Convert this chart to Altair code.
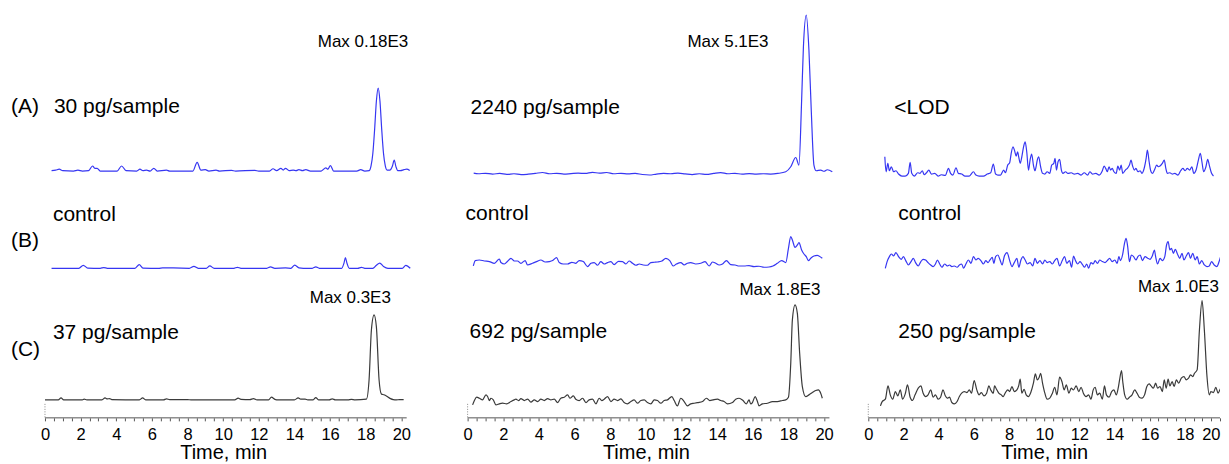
import altair as alt
import pandas as pd

# ---------------- data (time in min, intensity in counts / arbitrary units) ----------------
a1_t = [0.37,0.6,0.8,1.0,1.6,1.85,2.1,2.45,2.67,2.8,2.93,3.1,4.05,4.3,4.55,5.15,5.33,5.5,5.7,5.9,
        6.11,6.3,6.82,7.0,8.3,8.54,8.75,9.0,9.2,9.6,9.8,10.47,10.7,11.78,12.0,12.6,12.8,13.0,13.24,13.37,
        13.5,13.7,13.93,14.1,14.25,14.45,14.64,14.9,15.5,15.76,15.88,16.02,16.2,17.5,17.72,17.95,18.2,18.3,18.4,18.5,
        18.6,18.7,18.8,18.9,19.0,19.1,19.2,19.35,19.5,19.6,19.7,19.8,19.95,20.15,20.3,20.47]
a1_v = [1,2,4,1,0,2,0,1,11,6,6,0,0,11,1,0,4,1,2,0,
        6,0,2,0,0,19,2,3,0,2,0,1.5,0,1.5,0,0,5,1,6,2,
        6,1,2,1,3,1,3,0,0,7,4,12,0,0,3,0,1,11,38,90,
        152,180,152,90,38,11,2,2,11,24,9,1,1,3,4,1]

b1_t = [0.37,1.9,2.15,2.4,3.1,3.3,3.5,5.05,5.29,5.5,6.4,6.6,7.2,8.1,8.36,8.6,9.05,9.25,9.5,10.6,
        10.8,11.0,12.45,12.66,12.9,13.5,13.8,14.02,14.25,14.5,15.0,15.2,15.4,16.65,16.78,16.86,16.95,17.08,17.55,17.76,
        17.95,18.4,18.6,18.79,19.0,19.25,20.05,20.25,20.5]
b1_v = [0,0,6.5,0.5,0,1.5,0,0,8,0.5,0,0.7,0.7,0,4,0,0,5,0,0,
        2,0,0,3,0,0.7,0,7,1,0,0,3,0,0,11,23,11,0,0,2,
        0,0,6.5,11,4,0,0,6.5,0]

c1_t = [0.0,0.75,0.9,1.05,2.1,2.2,2.35,3.2,3.37,3.5,3.62,3.75,5.3,5.48,5.65,6.65,6.82,7.0,8.0,8.2,
        10.65,10.84,11.0,11.5,11.7,11.9,12.55,12.71,12.9,13.1,14.0,14.21,14.35,14.6,14.75,15.05,15.2,15.35,15.95,16.12,
        16.3,17.0,17.2,17.4,18.04,18.19,18.32,18.47,18.6,18.75,18.88,19.02,19.16,19.39,19.55,19.72,19.9,20.13]
c1_v = [0,0,7,0,0,2.5,0,0,7,3.5,4.5,1,0,7,0,0,3.5,1,1,0,
        0,6,2,1,4.5,0,0,9.5,2,0,0,7,2.5,2.5,0,0,8,0,0,3.5,
        0,0,2,0,2.5,71,247,300,258,71,21,18,14,4.5,1,0,1,1]

a2_t = [0.34,0.6,1.0,1.4,1.8,2.2,2.6,3.0,3.4,3.8,4.2,4.6,5.0,5.4,5.8,6.2,6.6,7.0,7.4,7.8,
        8.2,8.6,9.0,9.4,9.8,10.2,10.6,11.0,11.4,11.8,12.2,12.6,13.0,13.4,13.8,14.2,14.6,15.0,15.4,15.8,
        16.2,16.6,17.0,17.4,17.85,18.13,18.41,18.59,18.74,18.84,19.0,19.15,19.28,19.43,19.56,19.81,20.0,20.18,20.46]
a2_v = [20,0,15,-10,10,-20,0,-30,-15,10,40,0,15,-10,5,20,10,45,20,40,
        0,15,-5,10,-25,-40,-10,10,0,20,-5,-30,0,-20,10,35,0,15,-15,5,
        -10,0,-10,10,64,225,523,280,2366,4077,5100,3971,2045,280,96,118,80,128,64]

b2_t = [0.32,0.43,0.66,0.94,1.22,1.5,1.78,1.87,2.06,2.24,2.43,2.62,2.8,2.99,3.23,3.36,3.64,3.87,4.11,4.35,
        4.58,4.77,4.99,5.14,5.36,5.61,5.85,6.07,6.26,6.49,6.73,6.92,7.1,7.29,7.47,7.66,7.85,8.04,8.22,8.47,
        8.69,8.88,9.06,9.25,9.44,9.63,9.85,10.09,10.28,10.47,10.65,10.9,11.12,11.34,11.53,11.72,11.96,12.15,12.33,12.52,
        12.8,13.08,13.32,13.55,13.74,13.92,14.11,14.3,14.52,14.76,15.01,15.23,15.51,15.79,16.07,16.35,16.63,16.91,17.13,17.38,
        17.62,17.85,18.0,18.13,18.22,18.37,18.5,18.59,18.74,18.87,19.0,19.12,19.25,19.43,19.62,19.71,19.9]
b2_v = [13,67,73,63,57,40,83,47,33,60,90,63,63,40,67,23,40,57,73,53,
        57,67,97,47,33,33,50,40,67,57,7,40,47,20,57,33,47,57,27,60,
        57,33,63,40,20,33,23,20,47,50,53,63,90,67,13,33,47,23,40,47,
        33,40,57,13,53,40,23,33,67,27,23,13,13,17,7,10,0,3,13,40,
        67,47,190,307,273,200,223,247,173,133,107,67,90,113,120,113,90]

c2_t = [0.28,0.38,0.51,0.66,0.84,1.03,1.12,1.22,1.31,1.44,1.59,1.78,1.96,2.19,2.43,2.62,2.71,2.86,2.99,3.18,
        3.37,3.55,3.74,3.93,4.11,4.30,4.49,4.67,4.86,5.05,5.23,5.42,5.61,5.74,5.93,6.07,6.26,6.45,6.64,6.82,
        7.01,7.20,7.38,7.53,7.66,7.85,8.04,8.22,8.41,8.60,8.78,8.97,9.16,9.34,9.53,9.72,9.91,10.09,10.28,10.47,
        10.65,10.84,11.03,11.21,11.46,11.59,11.77,11.96,12.15,12.33,12.52,12.71,12.90,13.18,13.40,13.59,13.77,14.02,14.20,14.39,
        14.58,14.86,15.04,15.23,15.45,15.64,15.79,15.88,15.98,16.13,16.26,16.35,16.54,16.82,17.10,17.38,17.66,17.85,18.00,18.13,
        18.22,18.37,18.50,18.63,18.78,18.97,19.15,19.34,19.53,19.68,19.81,19.90]
c2_v = [18,95,154,136,107,196,166,95,136,107,18,36,47,36,77,107,119,95,130,95,
        119,65,107,77,119,95,130,107,119,59,136,154,196,136,178,119,95,136,59,107,
        119,36,136,95,119,166,77,119,95,125,59,36,77,107,47,95,107,59,36,107,
        95,47,95,107,166,95,0,136,77,0,36,47,59,77,136,95,107,119,95,77,
        36,59,119,136,95,36,107,36,59,166,77,0,36,47,77,77,95,107,154,759,
        1530,1800,1649,937,344,166,196,237,273,285,225,136]

a3_t = [0.94,1.01,1.11,1.20,1.31,1.44,1.57,1.72,1.91,2.10,2.28,2.38,2.47,2.62,2.81,2.94,3.07,3.18,3.31,3.44,
        3.59,3.78,3.97,4.15,4.38,4.56,4.68,4.81,4.99,5.12,5.31,5.50,5.74,5.98,6.12,6.30,6.55,6.77,6.96,7.11,
        7.24,7.37,7.52,7.70,7.80,7.93,8.04,8.12,8.23,8.32,8.41,8.49,8.56,8.64,8.73,8.83,8.92,9.01,9.11,9.20,
        9.29,9.39,9.48,9.54,9.61,9.69,9.80,9.91,10.04,10.17,10.32,10.43,10.55,10.62,10.70,10.79,10.88,10.98,11.07,11.22,
        11.35,11.54,11.72,11.91,12.10,12.28,12.47,12.60,12.75,12.94,13.13,13.31,13.41,13.50,13.59,13.69,13.78,13.87,13.97,14.10,
        14.19,14.29,14.38,14.47,14.62,14.73,14.85,14.94,15.03,15.13,15.22,15.33,15.46,15.56,15.71,15.80,15.87,15.97,16.06,16.15,
        16.27,16.40,16.49,16.59,16.72,16.83,16.92,17.01,17.15,17.28,17.43,17.61,17.76,17.89,18.02,18.14,18.27,18.40,18.51,18.64,
        18.77,18.88,18.98,19.07,19.20,19.30,19.39,19.52,19.63]
a3_v = [193,43,127,53,93,43,53,20,0,0,27,137,27,0,33,27,53,13,33,60,
        20,27,0,13,7,77,27,10,83,27,20,0,0,43,10,0,0,20,33,120,
        20,10,10,60,33,110,133,220,293,253,200,243,187,127,193,293,343,243,60,160,
        220,110,53,93,160,193,93,27,20,43,27,110,127,177,60,143,167,60,27,43,
        27,33,20,27,10,33,10,43,20,27,10,53,100,77,43,93,60,77,43,27,
        100,60,110,27,60,77,110,160,100,60,77,43,53,27,93,177,260,143,53,27,
        60,110,93,100,127,160,77,27,33,20,27,10,53,77,53,77,60,93,27,60,
        160,227,133,43,93,167,110,27,0]

b3_t = [0.97,1.07,1.20,1.31,1.44,1.57,1.72,1.87,2.00,2.13,2.28,2.43,2.56,2.69,2.84,2.99,3.12,3.26,3.40,3.55,
        3.69,3.82,3.93,4.06,4.19,4.34,4.49,4.62,4.75,4.90,5.05,5.18,5.31,5.42,5.55,5.69,5.84,5.98,6.12,6.25,
        6.40,6.55,6.68,6.81,6.92,7.05,7.14,7.24,7.37,7.48,7.61,7.74,7.89,8.04,8.17,8.30,8.45,8.56,8.68,8.79,
        8.92,9.05,9.20,9.35,9.48,9.61,9.76,9.91,10.04,10.17,10.32,10.47,10.60,10.73,10.88,11.03,11.16,11.29,11.44,11.56,
        11.67,11.78,11.91,12.04,12.19,12.30,12.42,12.53,12.66,12.79,12.90,13.03,13.16,13.31,13.46,13.59,13.72,13.87,14.02,14.15,
        14.25,14.34,14.47,14.57,14.66,14.75,14.85,14.96,15.09,15.22,15.33,15.46,15.59,15.74,15.89,16.02,16.15,16.27,16.34,16.45,
        16.59,16.72,16.86,16.96,17.05,17.15,17.24,17.35,17.46,17.58,17.71,17.84,17.95,18.08,18.21,18.32,18.45,18.59,18.70,18.83,
        18.96,19.11,19.26,19.39,19.52,19.67,19.82,19.95,20.04,20.21]
b3_v = [0,67,117,143,123,157,117,90,117,77,33,67,100,57,23,67,90,83,57,33,
        17,43,83,43,10,43,23,33,17,23,10,33,43,0,43,83,50,117,83,100,
        77,43,77,57,83,110,50,117,133,90,33,123,157,77,17,57,100,10,83,117,
        83,43,57,23,100,50,77,43,83,57,67,43,77,100,23,77,117,50,77,10,
        123,77,43,67,33,10,43,0,57,43,77,50,83,67,57,77,100,67,83,50,
        117,77,143,250,300,217,67,133,117,83,117,133,77,117,100,90,123,183,117,43,
        100,77,117,233,267,183,200,150,190,143,100,150,83,123,157,100,150,83,117,43,
        77,33,17,23,67,33,17,67,117,150]

c3_t = [0.69,0.79,0.97,1.12,1.25,1.39,1.54,1.68,1.82,1.95,2.10,2.23,2.38,2.51,2.66,2.84,2.99,3.12,3.26,3.40,
        3.55,3.69,3.82,3.97,4.11,4.25,4.38,4.49,4.62,4.75,4.90,5.05,5.18,5.31,5.46,5.61,5.74,5.87,6.02,6.17,
        6.30,6.43,6.58,6.73,6.86,6.96,7.11,7.18,7.29,7.42,7.56,7.67,7.80,7.93,8.04,8.17,8.30,8.45,8.55,8.64,
        8.73,8.86,8.98,9.11,9.24,9.39,9.50,9.61,9.72,9.80,9.91,10.04,10.17,10.32,10.47,10.60,10.73,10.88,11.01,11.14,
        11.26,11.41,11.54,11.67,11.82,11.97,12.10,12.23,12.38,12.53,12.66,12.79,12.90,13.03,13.16,13.31,13.43,13.54,13.69,13.84,
        13.97,14.10,14.21,14.29,14.40,14.47,14.58,14.72,14.85,15.00,15.15,15.28,15.41,15.56,15.71,15.84,15.97,16.08,16.21,16.34,
        16.45,16.59,16.72,16.83,16.94,17.05,17.15,17.28,17.39,17.52,17.65,17.80,17.95,18.08,18.21,18.32,18.45,18.55,18.70,18.83,
        18.98,19.11,19.26,19.39,19.48,19.63,19.76,19.89,20.04,20.21]
c3_v = [6,47,69,195,110,69,141,101,157,69,119,204,88,57,110,173,195,126,94,110,
        157,88,110,69,88,157,101,79,88,38,25,47,94,126,141,132,157,126,245,157,
        110,132,101,126,195,157,126,195,163,126,110,94,132,157,141,189,141,157,195,258,
        126,163,110,94,132,220,308,252,277,314,220,126,69,79,126,182,110,277,236,157,
        204,126,173,157,195,141,182,126,94,110,69,157,182,110,126,69,195,110,88,141,
        157,110,173,252,340,236,110,69,88,110,157,126,88,79,110,189,214,195,173,220,
        173,189,141,252,173,258,195,236,189,252,220,267,283,252,267,299,283,314,346,723,
        1000,723,283,110,141,132,182,126,173,189]

tick_values = [0,0.5,1,1.5,2,2.5,3,3.5,4,4.5,5,5.5,6,6.5,7,7.5,8,8.5,9,9.5,10,
               10.5,11,11.5,12,12.5,13,13.5,14,14.5,15,15.5,16,16.5,17,17.5,18,18.5,19,19.5,20]
axis_span = [[0, 20.3], [0, 20.3], [0, 20.0]]
stub_time = [0]

# ---------------- styling ----------------
FONT = "Liberation Sans"
BLUE = "#3636f2"
DARK = "#3a3a3a"
AXC = "#555555"
BIG = 21
MAXF = 17

col_width = [423, 401, 352]
col_xmax = [23.72, 22.48, 20.0]
row_height = [182, 92, 136]


def make_axis(col):
    ppm = col_width[col] / col_xmax[col]
    kw = dict(
        values=tick_values,
        labelExpr="datum.value % 2 == 0 ? format(datum.value, 'd') : ''",
        domain=False, grid=False, ticks=True, tickSize=3, tickColor=AXC, tickWidth=1,
        labelFont=FONT, labelFontSize=16.5, labelColor="black", labelPadding=6,
        labelFlush=False, labelOverlap=False, labelBound=False,
        title="Time, min", titleFont=FONT, titleFontSize=20, titleFontWeight="normal",
        titleColor="black", titleX=10 * ppm, titleY=25, titleAlign="center", titleBaseline="top",
    )
    if col == 2:
        kw["labelAlign"] = {"condition": {"test": "datum.value == 20", "value": "right"}, "value": "center"}
    return alt.Axis(**kw)


def panel(t, v, color, col, row, ydom, texts):
    width, height = col_width[col], row_height[row]
    xscale = alt.Scale(domain=[0, col_xmax[col]], nice=False, zero=False)
    bottom = row == 2
    xaxis = make_axis(col) if bottom else None
    df = pd.DataFrame({"t": t, "v": v})
    layers = [
        alt.Chart(df).mark_line(color=color, strokeWidth=1.2, interpolate="monotone", clip=True).encode(
            x=alt.X("t:Q", scale=xscale, axis=xaxis),
            y=alt.Y("v:Q", scale=alt.Scale(domain=ydom, nice=False, zero=False), axis=None),
        )
    ]
    if bottom:
        span = pd.DataFrame({"a": [axis_span[col][0]], "b": [axis_span[col][1]]})
        layers.append(
            alt.Chart(span).mark_rule(color=AXC, strokeWidth=1).encode(
                x=alt.X("a:Q", scale=xscale, axis=xaxis), x2="b:Q", y=alt.value(height)
            )
        )
        stub = pd.DataFrame({"a": stub_time})
        layers.append(
            alt.Chart(stub).mark_rule(color="#888888", strokeWidth=1, strokeDash=[1, 1.5]).encode(
                x=alt.X("a:Q", scale=xscale, axis=xaxis), y=alt.value(height - 14), y2=alt.value(height)
            )
        )
    for (txt, x, y, align, size) in texts:
        layers.append(
            alt.Chart(pd.DataFrame({"s": [txt]})).mark_text(
                align=align, baseline="middle", fontSize=size, font=FONT, color="black"
            ).encode(x=alt.value(x), y=alt.value(y), text="s:N")
        )
    return alt.layer(*layers).properties(
        width=width, height=height,
        view=alt.ViewBackground(stroke="transparent", strokeWidth=0, fill="transparent"),
    )


panels = [
    panel(a1_t, a1_v, BLUE, 0, 0, [-41.2, 353.5],
          [("(A)", -34, 99, "left", BIG), ("30 pg/sample", 9, 99, "left", BIG), ("Max 0.18E3", 273, 34, "left", MAXF)]),
    panel(a2_t, a2_v, BLUE, 1, 0, [-524, 5325],
          [("2240 pg/sample", 3, 100, "left", BIG), ("Max 5.1E3", 220, 34, "left", MAXF)]),
    panel(a3_t, a3_v, BLUE, 2, 0, [-140, 1680],
          [("<LOD", 26, 100, "left", BIG)]),
    panel(b1_t, b1_v, BLUE, 0, 1, [-29.7, 169.8],
          [("(B)", -34, 51, "left", BIG), ("control", 8, 25, "left", BIG)]),
    panel(b2_t, b2_v, BLUE, 1, 1, [-147, 773],
          [("control", -2, 24, "left", BIG)]),
    panel(b3_t, b3_v, BLUE, 2, 1, [-137, 783],
          [("control", 30, 24, "left", BIG)]),
    panel(c1_t, c1_v, DARK, 0, 2, [-63.5, 416.5],
          [("(C)", -34, 68, "left", BIG), ("37 pg/sample", 8, 51, "left", BIG), ("Max 0.3E3", 265, 16, "left", MAXF)]),
    panel(c2_t, c2_v, DARK, 1, 2, [-214, 2210],
          [("692 pg/sample", 2, 50, "left", BIG), ("Max 1.8E3", 272, 8, "left", MAXF)]),
    panel(c3_t, c3_v, DARK, 2, 2, [-107, 1176],
          [("250 pg/sample", 30, 50, "left", BIG), ("Max 1.0E3", 351, 5, "right", MAXF)]),
]

chart = alt.concat(*panels, columns=3, spacing=0, bounds="flush", align="each").properties(
    padding={"left": 3, "right": 0, "top": 0, "bottom": 0}
).configure_view(stroke="transparent", strokeWidth=0).configure(background="white")

chart.save("out.html", embed_options={"renderer": "svg", "actions": False})
